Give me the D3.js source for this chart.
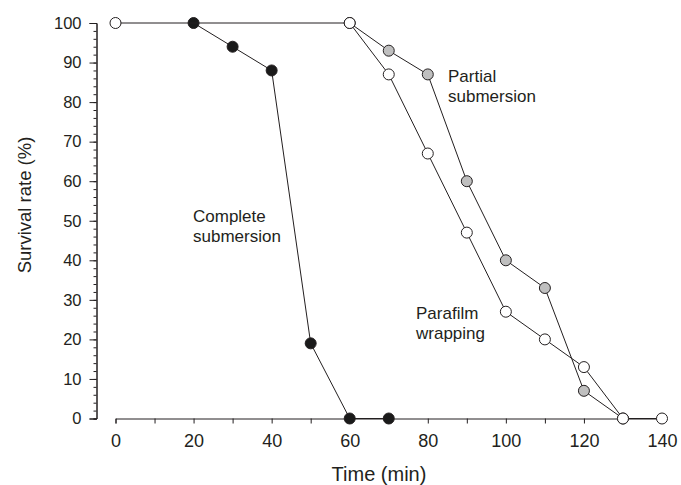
<html>
    <head>
        <script src="https://d3js.org/d3.v7.min.js"></script>
        <style>
            body{ margin:0; background:#fff; }
            text{ font-family: Arial, "Liberation Sans", sans-serif; fill:#231f20; }
        </style>
    </head>
    <body>
        <svg id="svg" width="681" height="485"></svg>
        <script>
            // time points (min) and survival (%)
            var completeTime = [20, 30, 40, 50, 60, 70];
            var completeRate = [100, 94, 88, 19, 0, 0];
            var partialTime = [60, 70, 80, 90, 100, 110, 120, 130];
            var partialRate = [100, 93, 87, 60, 40, 33, 7, 0];
            var parafilmTime = [0, 60, 70, 80, 90, 100, 110, 120, 130, 140];
            var parafilmRate = [100, 100, 87, 67, 47, 27, 20, 13, 0, 0];
            var xTickLabels = [0, 20, 40, 60, 80, 100, 120, 140];
            var yTickLabels = [0, 10, 20, 30, 40, 50, 60, 70, 80, 90, 100];

            var svg = d3.select("svg");
            var x = d3.scaleLinear().domain([0, 140]).range([115.5, 662]);
            var y = d3.scaleLinear().domain([0, 100]).range([418.5, 23]);
            var ink = "#231f20";

            // y axis: minor ticks every 2, labelled every 10
            svg.append("g").attr("transform", "translate(96.5,0)")
                .call(d3.axisLeft(y).tickValues(d3.range(0, 101, 2)).tickSize(3).tickFormat(""));
            var yMajor = svg.append("g").attr("transform", "translate(96.5,0)")
                .call(d3.axisLeft(y).tickValues(yTickLabels).tickSize(7).tickPadding(8));
            yMajor.selectAll("text").style("font-size", "16.5px");

            // x axis: ticks every 10, labels every 20
            var xAx = svg.append("g").attr("transform", "translate(0,418.5)")
                .call(d3.axisBottom(x).tickValues(d3.range(0, 141, 10)).tickSize(5).tickPadding(11)
                    .tickFormat(function(d){ return xTickLabels.indexOf(d) >= 0 ? d : ""; }));
            xAx.selectAll("text").style("font-size", "18px");

            svg.selectAll(".domain, .tick line").attr("stroke", ink).attr("stroke-width", 1);
            svg.selectAll(".tick text").attr("fill", ink);

            svg.append("text").attr("x", 379).attr("y", 481).attr("text-anchor", "middle")
                .style("font-size", "20px").text("Time (min)");
            svg.append("text").attr("transform", "translate(31,205) rotate(-90)")
                .attr("text-anchor", "middle").style("font-size", "18.5px").text("Survival rate (%)");

            var line = d3.line().x(function(d){ return x(d[0]); }).y(function(d){ return y(d[1]); });

            function series(times, rates, fill){
                var pts = d3.zip(times, rates);
                svg.append("path").attr("d", line(pts)).attr("fill", "none")
                    .attr("stroke", ink).attr("stroke-width", 1);
                svg.append("g").selectAll("circle").data(pts).enter().append("circle")
                    .attr("cx", function(d){ return x(d[0]); })
                    .attr("cy", function(d){ return y(d[1]); })
                    .attr("r", 5.5).attr("fill", fill)
                    .attr("stroke", ink).attr("stroke-width", 1);
            }

            series(completeTime, completeRate, "#1a1a1a");
            series(partialTime, partialRate, "#bfbfbf");
            series(parafilmTime, parafilmRate, "#ffffff");

            function label(lines, lx, ly){
                var t = svg.append("text").attr("x", lx).attr("y", ly).style("font-size", "17px");
                lines.forEach(function(s, i){
                    t.append("tspan").attr("x", lx).attr("dy", i ? 20 : 0).text(s);
                });
            }
            label(["Complete", "submersion"], 193, 222);
            label(["Partial", "submersion"], 448, 82);
            label(["Parafilm", "wrapping"], 416, 319);
        </script>
    </body>
</html>
